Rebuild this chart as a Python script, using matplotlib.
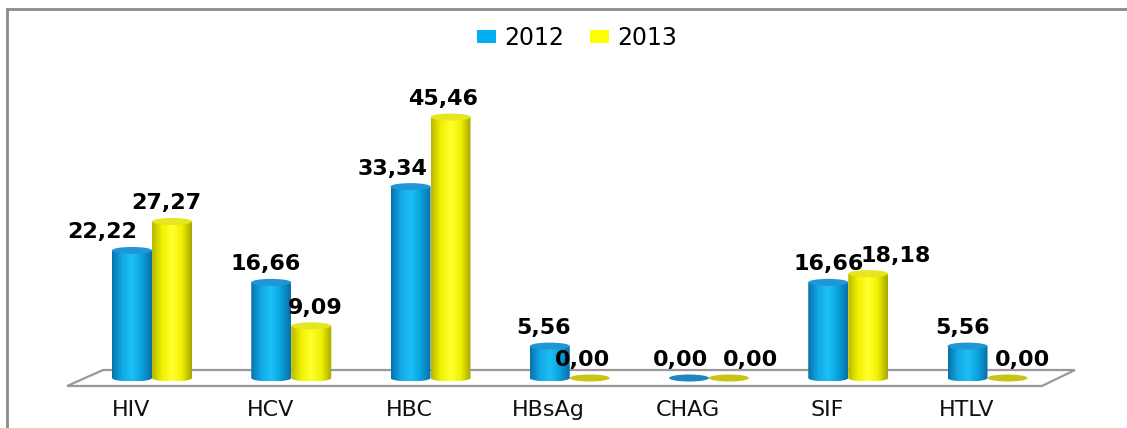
import matplotlib
matplotlib.use("Agg")
import matplotlib.pyplot as plt
import numpy as np
from matplotlib.patches import Ellipse, Polygon, Patch
from matplotlib.colors import LinearSegmentedColormap
from matplotlib.lines import Line2D

categories = ["HIV", "HCV", "HBC", "HBsAg", "CHAG", "SIF", "HTLV"]
years = ["2012", "2013"]
v2012 = [22.22, 16.66, 33.34, 5.56, 0.00, 16.66, 5.56]
v2013 = [27.27, 9.09, 45.46, 0.00, 0.00, 18.18, 0.00]

# styling for each series: body gradient, top cap, flat (zero) disc
STYLE = {
    "2012": dict(grad=["#0873ad", "#12a9e6", "#1cc0f6", "#0aa2de", "#086fa8"],
                 top="#2196d4", flat="#1f87bf", legend="#00b0f0"),
    "2013": dict(grad=["#b8b800", "#f2f200", "#ffff30", "#f0f000", "#a8a800"],
                 top="#e6e61e", flat="#c8c414", legend="#ffff00"),
}
# label nudges in pixels (dx) to keep neighbouring labels apart
dx2012 = [-30, -6, -18, -6, -9, 0, -5]
dx2013 = [-6, 4, -7, -7, 21, 27, 15]

PX_X, PX_Y = 139.25, 5.74          # pixels per data unit
W_BAR = 40 / PX_X
OFF = 20 / PX_X
EH = 7 / PX_Y                       # ellipse height of the cylinder caps

fig = plt.figure(figsize=(11.27, 4.28), dpi=100)
ax = fig.add_axes([0, 0, 1, 1])
ax.set_xlim(-152 / PX_X, 975 / PX_X)
ax.set_ylim(-50 / PX_Y, 378 / PX_Y)
ax.axis("off")

# chart frame
fig.add_artist(Line2D([7 / 1127, 7 / 1127], [0, 1 - 9 / 428], color="#8a8a8a", lw=2))
fig.add_artist(Line2D([7 / 1127, 1], [1 - 9 / 428, 1 - 9 / 428], color="#8a8a8a", lw=2))

# floor
n = len(categories)
floor = Polygon([(-0.352, 1.39), (n - 1 + 0.628, 1.39), (n - 1 + 0.391, -1.39), (-0.610, -1.39)],
                closed=True, facecolor="white", edgecolor="#999999", lw=1.6, zorder=1)
ax.add_patch(floor)

t = np.linspace(0, np.pi, 40)


def cylinder(xc, v, st, z):
    x0, x1 = xc - W_BAR / 2, xc + W_BAR / 2
    if v <= 0:
        ax.add_patch(Ellipse((xc, 0), W_BAR, EH, facecolor=st["flat"], edgecolor="none", zorder=z))
        return
    arc = np.column_stack([xc + W_BAR / 2 * np.cos(t), -EH / 2 * np.sin(t)])
    pts = np.vstack([[x1, v], arc, [x0, v]])
    clip = Polygon(pts, closed=True, transform=ax.transData)
    cmap = LinearSegmentedColormap.from_list("c", st["grad"])
    im = ax.imshow(np.linspace(0, 1, 64)[None, :], cmap=cmap, aspect="auto",
                   extent=[x0, x1, -EH / 2, v], zorder=z, interpolation="bilinear")
    im.set_clip_path(clip)
    ax.add_patch(Ellipse((xc, v), W_BAR, EH, facecolor=st["top"], edgecolor="none", zorder=z + 0.1))


for i in range(n):
    for k, (yr, vals, dxs) in enumerate([("2012", v2012, dx2012), ("2013", v2013, dx2013)]):
        xc = i + (OFF if k else -OFF)
        cylinder(xc, vals[i], STYLE[yr], 3 + k)
        ax.annotate(f"{vals[i]:.2f}".replace(".", ","), (xc, vals[i]),
                    xytext=(dxs[i] * 0.72, 18 * 0.72), textcoords="offset points",
                    ha="center", va="center", fontsize=16, fontweight="bold",
                    color="black", zorder=10)
    ax.text(i - 21 / PX_X, -32 / PX_Y, categories[i], ha="center", va="center",
            fontsize=16, color="#111111")

handles = [Patch(facecolor=STYLE[y]["legend"], edgecolor="none") for y in years]
fig.legend(handles, years, loc="center", bbox_to_anchor=(0.512, 1 - 38 / 428), ncol=2,
           frameon=False, fontsize=17, handlelength=0.8, handleheight=0.5,
           handletextpad=0.35, columnspacing=1.1)

fig.savefig("out.png", dpi=100)
